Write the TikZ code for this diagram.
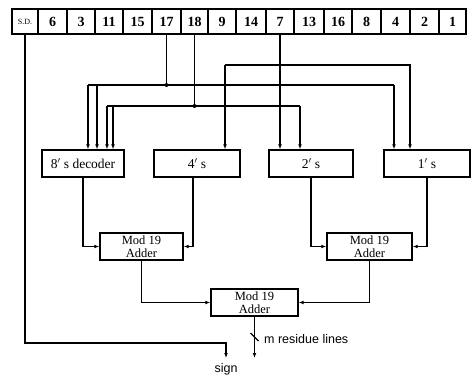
\documentclass[tikz,border=0pt]{standalone}
\usepackage{fontspec}
\setmainfont{Liberation Serif}
\setsansfont{Liberation Sans}
\usetikzlibrary{arrows.meta}
\begin{document}
\begin{tikzpicture}[x=1pt,y=-1pt,
  wire/.style={line width=1.3pt},
  arr/.style={line width=1.3pt,-{Latex[length=5pt,width=3.8pt]}},
  cellbox/.style={draw,line width=1.3pt,minimum height=25pt,inner sep=0pt,font=\fontsize{14}{14}\selectfont\bfseries},
  blockbox/.style={draw,line width=1.3pt,minimum height=27pt,inner sep=0pt,font=\fontsize{13.5}{13}\selectfont},
  addbox/.style={draw,line width=1.3pt,minimum height=27pt,inner sep=0pt,align=center,font=\fontsize{12.5}{12.5}\selectfont},
  lbl/.style={font=\sffamily\fontsize{12.5}{13}\selectfont,inner sep=1pt},
  dot/.style={circle,fill,inner sep=0pt,minimum size=4pt}]
\useasboundingbox (0,0) rectangle (476,375);
% register cells
\foreach \i/\l/\r/\t in {1/12/38/{\fontsize{8}{8}\selectfont\mdseries S.D.},2/38/67/6,3/67/95/3,4/95/123/11,5/123/152/15,6/152/181/17,7/181/208/18,8/208/236/9,9/236/266/14,10/266/294/7,11/294/324/13,12/324/352/16,13/352/381/8,14/381/410/4,15/410/439/2,16/439/466/1}
  \node[cellbox,minimum width={\r-\l}] (c\i) at ({(\l+\r)/2},21.5) {\t};
% blocks
\node[blockbox,minimum width=82pt] (dec) at (83,163.5) {8$'$ s decoder};
\node[blockbox,minimum width=86pt] (four) at (197,163.5) {4$'$ s};
\node[blockbox,minimum width=84pt] (two) at (311,163.5) {2$'$ s};
\node[blockbox,minimum width=86pt] (one) at (427,163.5) {1$'$ s};
\node[addbox,minimum width=83pt] (add1) at (141.5,246.5) {Mod 19\\Adder};
\node[addbox,minimum width=85pt] (add2) at (369.5,246.5) {Mod 19\\Adder};
\node[addbox,minimum width=87pt] (add3) at (254.5,302.5) {Mod 19\\Adder};
% junction coordinates
\coordinate (j17) at (c6.south |- 0,85);
\coordinate (j18) at (c7.south |- 0,106);
% 17 bus
\draw[wire] (c6.south) -- (j17);
\node[dot] at (j17) {};
\draw[wire] (88,85) -- (394,85);
\draw[arr] (88,85) -- (88,0 |- dec.north);
\draw[arr] (97,85) -- (97,0 |- dec.north);
\draw[arr] (394,85) -- (394,0 |- one.north);
% 18 bus
\draw[wire] (c7.south) -- (j18);
\node[dot] at (j18) {};
\draw[wire] (107,106) -- (300,106);
\draw[arr] (107,106) -- (107,0 |- dec.north);
\draw[arr] (113,106) -- (113,0 |- dec.north);
\draw[arr] (300,106) -- (300,0 |- two.north);
% 7 line
\draw[arr] (c10.south) -- (c10.south |- two.north);
% 4/1 bus
\draw[arr] (225,65) -- (225,0 |- four.north);
\draw[arr] (225,65) -- (410,65) -- (410,0 |- one.north);
% outputs to adders
\draw[arr] (dec.south) |- (add1.west);
\draw[arr] (193,0 |- four.south) |- (add1.east);
\draw[arr] (two.south) |- (add2.west);
\draw[arr] (one.south) |- (add2.east);
\draw[arr] (add1.south) |- (add3.west);
\draw[arr] (add2.south) |- (add3.east);
% result
\coordinate (mout) at (add3.south |- 0,358);
\draw[arr] (add3.south) -- (mout);
\draw[wire] ([xshift=-4pt,yshift=4pt]add3.south |- 0,337) -- ([xshift=4pt,yshift=-4pt]add3.south |- 0,337);
\node[lbl,anchor=west] (mlab) at (263,339) {m residue lines};
% sign
\coordinate (sgn) at (226,358);
\draw[arr] (c1.south) |- (226,343) -- (sgn);
\node[lbl] (slab) at (226,369) {sign};
\end{tikzpicture}
\end{document}
